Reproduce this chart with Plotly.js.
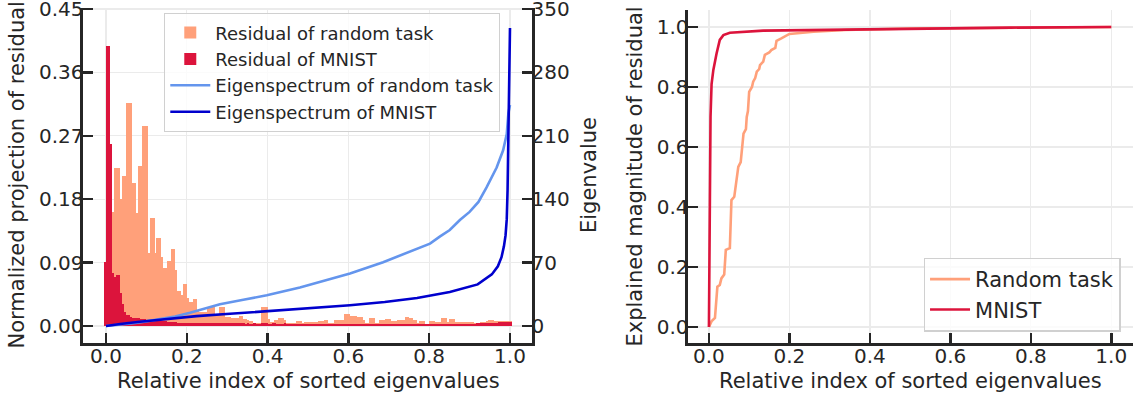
<!DOCTYPE html>
<html>
<head>
<meta charset="utf-8">
<script src="https://cdn.plot.ly/plotly-3.0.1.min.js"></script>
<style>html,body{margin:0;padding:0;background:#fff;}#chart{width:1134px;height:398px;}</style>
</head>
<body>
<div id="chart"></div>
<script>
// ---------- Left panel: residual projection histograms (bin width 0.005) ----------
const residualRandom = [
  0, 0.05, 0.1, 0.162, 0.162, 0.225, 0.225, 0.225, 0.181, 0.213,
  0.213, 0.316, 0.316, 0.316, 0.203, 0.203, 0.16, 0.227, 0.227, 0.284,
  0.284, 0.284, 0.103, 0.153, 0.153, 0.103, 0.125, 0.125, 0.098, 0.082,
  0.082, 0.093, 0.093, 0.11, 0.11, 0.08, 0.05, 0.05, 0.044, 0.06,
  0.06, 0.04, 0.034, 0.034, 0.038, 0.038, 0.023, 0.02, 0.02, 0.02,
  0.02, 0.025, 0.027, 0.027, 0.027, 0.015, 0.015, 0.027, 0.027, 0.027,
  0.013, 0.013, 0.013, 0.012, 0.012, 0.011, 0.012, 0.014, 0.014, 0.01,
  0.01, 0.009, 0.007, 0.007, 0.005, 0.005, 0.005, 0.005, 0.027, 0.027,
  0.027, 0.01, 0.006, 0.006, 0.008, 0.008, 0.012, 0.012, 0.012, 0.009,
  0.005, 0.005, 0.005, 0.004, 0.004, 0.007, 0.007, 0.007, 0.005, 0.006,
  0.006, 0.006, 0.006, 0.006, 0.006, 0.006, 0.0065, 0.0065, 0.0065, 0.008,
  0.008, 0.005, 0.005, 0.004, 0.008, 0.008, 0.008, 0.008, 0.008, 0.017,
  0.017, 0.017, 0.0145, 0.0145, 0.0145, 0.013, 0.013, 0.013, 0.009, 0.005,
  0.005, 0.011, 0.011, 0.011, 0.005, 0.005, 0.009, 0.009, 0.009, 0.0095,
  0.0095, 0.0095, 0.007, 0.007, 0.007, 0.0085, 0.0085, 0.0085, 0.0085, 0.013,
  0.013, 0.011, 0.011, 0.0085, 0.0085, 0.004, 0.0065, 0.0065, 0.0065, 0.003,
  0.003, 0.007, 0.007, 0.007, 0.006, 0.006, 0.006, 0.012, 0.012, 0.012,
  0.006, 0.0095, 0.0095, 0.0095, 0.006, 0.006, 0.006, 0.006, 0.006, 0.0055,
  0.0055, 0.0055, 0.0055, 0.004, 0.004, 0.004, 0.006, 0.006, 0.006, 0.0075,
  0.0085, 0.0085, 0.0085, 0.0065, 0.0065, 0.0065, 0.0065, 0.0065, 0.0065, 0.0065,
  0.0065, 0.0065
];
const residualMNIST = [
  0.091, 0.398, 0.398, 0.258, 0.075, 0.07, 0.073, 0.073, 0.047, 0.032,
  0.02, 0.016, 0.015, 0.013, 0.012, 0.012, 0.011, 0.011, 0.01, 0.01,
  0.01, 0.009, 0.009, 0.009, 0.008, 0.008, 0.008, 0.007, 0.007, 0.007,
  0.007, 0.006, 0.006, 0.006, 0.006, 0.006, 0.005, 0.005, 0.005, 0.005,
  0.005, 0.005, 0.005, 0.005, 0.005, 0.005, 0.005, 0.004, 0.005, 0.005,
  0.005, 0.004, 0.005, 0.005, 0.004, 0.004, 0.005, 0.004, 0.004, 0.004,
  0.004, 0.004, 0.004, 0.004, 0.004, 0.004, 0.004, 0.004, 0.004, 0.004,
  0.003, 0.004, 0.003, 0.003, 0.004, 0.003, 0.003, 0.003, 0.004, 0.004,
  0.004, 0.003, 0.003, 0.004, 0.004, 0.003, 0.003, 0.003, 0.003, 0.004,
  0.003, 0.003, 0.003, 0.003, 0.0035, 0.003, 0.003, 0.003, 0.003, 0.003,
  0.003, 0.003, 0.0035, 0.003, 0.003, 0.003, 0.003, 0.003, 0.003, 0.0035,
  0.003, 0.003, 0.003, 0.003, 0.003, 0.003, 0.0025, 0.003, 0.003, 0.003,
  0.003, 0.003, 0.003, 0.0035, 0.003, 0.003, 0.003, 0.003, 0.003, 0.003,
  0.003, 0.003, 0.003, 0.003, 0.003, 0.0025, 0.003, 0.003, 0.003, 0.003,
  0.003, 0.003, 0.003, 0.003, 0.003, 0.003, 0.003, 0.0035, 0.003, 0.003,
  0.003, 0.003, 0.003, 0.003, 0.003, 0.003, 0.003, 0.003, 0.003, 0.003,
  0.003, 0.003, 0.003, 0.003, 0.003, 0.0035, 0.003, 0.003, 0.003, 0.003,
  0.003, 0.003, 0.003, 0.003, 0.003, 0.003, 0.003, 0.003, 0.003, 0.003,
  0.003, 0.003, 0.0035, 0.0035, 0.004, 0.004, 0.004, 0.004, 0.0045, 0.0045,
  0.004, 0.004, 0.004, 0.004, 0.004, 0.006, 0.006, 0.006, 0.006, 0.006,
  0.006, 0.006
];
const BIN = 0.005;
const binIndex = residualRandom.map((_, k) => k * BIN - BIN / 2);

// Eigenspectra (right axis of left panel)
const eigRandomX = [0, 0.035, 0.068, 0.1, 0.142, 0.171, 0.208, 0.282, 0.34, 0.398, 0.48, 0.55, 0.604, 0.686, 0.761, 0.802, 0.827, 0.851, 0.876, 0.9, 0.922, 0.942, 0.967, 0.983, 0.992, 0.996, 1.0];
const eigRandomY = [0, 1.2, 3, 5.2, 8.4, 10.5, 14.7, 24, 29, 34, 42.6, 51, 58, 70.5, 84, 91, 99, 106, 117, 126, 137, 153, 175, 194, 212, 235, 244];
const eigMnistX = [0, 0.01, 0.035, 0.084, 0.14, 0.224, 0.307, 0.398, 0.48, 0.604, 0.69, 0.77, 0.851, 0.92, 0.955, 0.97, 0.979, 0.985, 0.989, 0.992, 0.994, 0.996, 0.998, 0.999, 1.0];
const eigMnistY = [0, 0.8, 2.2, 4.7, 7.5, 11, 13.5, 16.5, 18.5, 23, 26.5, 31, 37.5, 46, 57, 66, 76, 88, 100, 118, 150, 210, 290, 320, 329];

// ---------- Right panel: explained magnitude of residual ----------
const explRandomX = [0, 0.007, 0.015, 0.017, 0.021, 0.027, 0.031, 0.038, 0.042, 0.052, 0.056, 0.063, 0.067, 0.073, 0.079, 0.081, 0.084, 0.086, 0.092, 0.094, 0.097, 0.1, 0.107, 0.11, 0.115, 0.119, 0.125, 0.127, 0.135, 0.139, 0.15, 0.155, 0.165, 0.168, 0.18, 0.2, 0.26, 0.34, 0.5, 0.75, 1.0];
const explRandomY = [0, 0.02, 0.03, 0.057, 0.134, 0.14, 0.162, 0.175, 0.257, 0.263, 0.423, 0.434, 0.47, 0.534, 0.55, 0.579, 0.6, 0.645, 0.66, 0.7, 0.72, 0.784, 0.8, 0.818, 0.83, 0.851, 0.86, 0.873, 0.885, 0.907, 0.915, 0.923, 0.93, 0.954, 0.962, 0.977, 0.984, 0.99, 0.995, 0.998, 1.0];
const explMnistX = [0, 0.001, 0.002, 0.004, 0.0066, 0.011, 0.019, 0.027, 0.036, 0.052, 0.135, 0.26, 0.5, 0.75, 1.0];
const explMnistY = [0, 0.25, 0.5, 0.7, 0.81, 0.857, 0.912, 0.957, 0.973, 0.981, 0.988, 0.99, 0.995, 0.998, 1.0];

const leftYTicks = [0, 0.09, 0.18, 0.27, 0.36, 0.45];
const eigTicks = [0, 70, 140, 210, 280, 350];
const xTicks = [0, 0.2, 0.4, 0.6, 0.8, 1.0];
const rightYTicks = [0, 0.2, 0.4, 0.6, 0.8, 1.0];

const INK = '#262626';
const FONT = 'DejaVu Sans';
function axisStyle(extra) {
  return Object.assign({
    ticks: 'inside', ticklen: 10, tickwidth: 2.5, tickcolor: INK,
    showline: true, linewidth: 2.5, linecolor: INK,
    showgrid: true, gridcolor: '#ebebeb', gridwidth: 1.3,
    zeroline: false, tickfont: {family: FONT, size: 20, color: INK},
    tickmode: 'array', fixedrange: true, ticklabelstandoff: -7,
    ticklabeloverflow: 'allow'
  }, extra);
}

const traces = [
  {type: 'bar', x: binIndex, y: residualRandom, width: BIN * 1.05, name: 'Residual of random task',
   marker: {color: '#FFA07A', line: {width: 0}}, xaxis: 'x', yaxis: 'y', legend: 'legend'},
  {type: 'bar', x: binIndex, y: residualMNIST, width: BIN * 1.05, name: 'Residual of MNIST',
   marker: {color: '#DC143C', line: {width: 0}}, xaxis: 'x', yaxis: 'y', legend: 'legend'},
  {type: 'scatter', mode: 'lines', x: eigRandomX, y: eigRandomY, name: 'Eigenspectrum of random task',
   line: {color: '#6495ED', width: 2.6}, xaxis: 'x', yaxis: 'y2', legend: 'legend'},
  {type: 'scatter', mode: 'lines', x: eigMnistX, y: eigMnistY, name: 'Eigenspectrum of MNIST',
   line: {color: '#0000CD', width: 2.6}, xaxis: 'x', yaxis: 'y2', legend: 'legend'},
  {type: 'scatter', mode: 'lines', x: explRandomX, y: explRandomY, name: 'Random task',
   line: {color: '#FFA07A', width: 2.6}, xaxis: 'x2', yaxis: 'y3', legend: 'legend2'},
  {type: 'scatter', mode: 'lines', x: explMnistX, y: explMnistY, name: 'MNIST',
   line: {color: '#DC143C', width: 2.6}, xaxis: 'x2', yaxis: 'y3', legend: 'legend2'}
];

const layout = {
  width: 1134, height: 398,
  margin: {l: 0, r: 0, t: 0, b: 0},
  paper_bgcolor: 'white', plot_bgcolor: 'white',
  font: {family: FONT, size: 20, color: INK},
  barmode: 'overlay', bargap: 0,
  showlegend: true,
  xaxis: axisStyle({domain: [0.07319, 0.46914], range: [-0.0569, 1.0545], anchor: 'y',
    tickvals: xTicks, tickformat: '.1f'}),
  yaxis: axisStyle({domain: [0.13819, 0.98015], range: [-0.02406, 0.4515], anchor: 'x',
    tickvals: leftYTicks, tickformat: '.2f'}),
  yaxis2: axisStyle({overlaying: 'y', side: 'right', anchor: 'x', range: [-18.71, 351.2],
    tickvals: eigTicks, showgrid: false}),
  xaxis2: axisStyle({domain: [0.6067, 0.99912], range: [-0.052, 1.054], anchor: 'y3',
    tickvals: xTicks, tickformat: '.1f'}),
  yaxis3: axisStyle({domain: [0.13819, 0.97487], range: [-0.0533, 1.0567], anchor: 'x2',
    tickvals: rightYTicks, tickformat: '.1f'}),
  legend: {x: 0.4409, xanchor: 'right', y: 0.9673, yanchor: 'top',
    bgcolor: 'rgba(255,255,255,0.8)', bordercolor: '#d0d0d0', borderwidth: 1.3,
    font: {family: FONT, size: 18, color: INK}, tracegroupgap: 0, itemwidth: 40},
  legend2: {x: 0.9883, xanchor: 'right', y: 0.1666, yanchor: 'bottom',
    bgcolor: 'rgba(255,255,255,0.8)', bordercolor: '#d0d0d0', borderwidth: 1.3,
    font: {family: FONT, size: 21, color: INK}, tracegroupgap: 0, itemwidth: 40},
  annotations: [
    {text: 'Relative index of sorted eigenvalues', xref: 'paper', yref: 'paper',
     x: 308 / 1134, y: 1 - 381 / 398, xanchor: 'center', yanchor: 'middle', showarrow: false,
     font: {family: FONT, size: 21, color: INK}},
    {text: 'Relative index of sorted eigenvalues', xref: 'paper', yref: 'paper',
     x: 910 / 1134, y: 1 - 381 / 398, xanchor: 'center', yanchor: 'middle', showarrow: false,
     font: {family: FONT, size: 21, color: INK}},
    {text: 'Normalized projection of residual', xref: 'paper', yref: 'paper', textangle: -90,
     x: 17 / 1134, y: 1 - 175.5 / 398, xanchor: 'center', yanchor: 'middle', showarrow: false,
     font: {family: FONT, size: 21, color: INK}},
    {text: 'Eigenvalue', xref: 'paper', yref: 'paper', textangle: -90,
     x: 589 / 1134, y: 1 - 175 / 398, xanchor: 'center', yanchor: 'middle', showarrow: false,
     font: {family: FONT, size: 21, color: INK}},
    {text: 'Explained magnitude of residual', xref: 'paper', yref: 'paper', textangle: -90,
     x: 634 / 1134, y: 1 - 176.5 / 398, xanchor: 'center', yanchor: 'middle', showarrow: false,
     font: {family: FONT, size: 21, color: INK}}
  ]
};

Plotly.newPlot('chart', traces, layout, {displayModeBar: false, staticPlot: true});
</script>
</body>
</html>
